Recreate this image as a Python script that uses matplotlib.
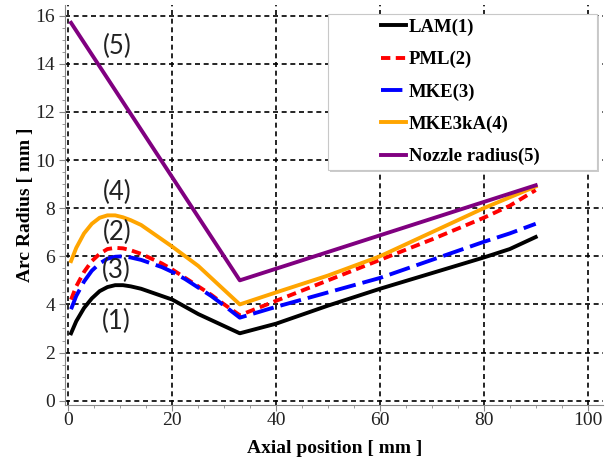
import matplotlib.pyplot as plt
from matplotlib.patches import Rectangle
from matplotlib.ticker import MultipleLocator

# axial positions (mm) where the arc radius curves were sampled
x = [0.5, 1.5, 3, 4.5, 6, 7.5, 9, 10.5, 12, 14, 16, 18, 20, 22.5, 25, 27.5,
     30, 33, 40, 50, 60, 70, 80, 85, 90]

lam = [2.8, 3.3, 3.85, 4.25, 4.55, 4.72, 4.8, 4.8, 4.75, 4.65, 4.5, 4.35,
       4.2, 3.9, 3.6, 3.35, 3.1, 2.8,
       3.2, 3.95, 4.65, 5.3, 5.95, 6.3, 6.8]
pml = [4.2, 4.75, 5.35, 5.8, 6.1, 6.3, 6.35, 6.33, 6.25, 6.1, 5.9, 5.7,
       5.45, 5.1, 4.75, 4.4, 4.0, 3.55,
       4.15, 5.0, 5.85, 6.7, 7.6, 8.1, 8.75]
mke = [3.8, 4.35, 4.95, 5.4, 5.7, 5.9, 5.98, 6.0, 5.95, 5.85, 5.7, 5.55,
       5.35, 5.05, 4.7, 4.35, 3.95, 3.45,
       3.9, 4.5, 5.1, 5.85, 6.6, 6.95, 7.35]
mke3ka = [5.8, 6.35, 6.95, 7.35, 7.6, 7.7, 7.7, 7.62, 7.5, 7.3, 7.0, 6.7,
          6.4, 6.0, 5.6, 5.1, 4.6, 4.0,
          4.5, 5.2, 6.0, 7.0, 8.0, 8.45, 8.9]

# nozzle wall: converging cone then diverging cone
nozzle_x = [0.5, 33, 90]
nozzle_r = [15.7, 5.0, 8.95]

labels = ['LAM(1)', 'PML(2)', 'MKE(3)', 'MKE3kA(4)', 'Nozzle radius(5)']
tags = ['(5)', '(4)', '(2)', '(3)', '(1)']
tag_x = [9.4, 9.3, 9.3, 9.3, 9.3]
tag_y = [14.7, 8.67, 7.01, 5.42, 3.28]

fig = plt.figure(figsize=(6.05, 4.59), dpi=100)
ax = fig.add_axes([0.108, 0.1176, 0.889, 0.872])

lw = 2.8
ax.plot(x, lam, color='black', lw=lw, label=labels[0], zorder=5)
ax.plot(x, pml, color='red', lw=lw, dashes=(2.4, 1.4), label=labels[1], zorder=5)
ax.plot(x, mke, color='blue', lw=lw, dashes=(5.5, 1.8), label=labels[2], zorder=5)
ax.plot(x, mke3ka, color='orange', lw=lw, label=labels[3], zorder=5)
ax.plot(nozzle_x, nozzle_r, color='purple', lw=lw, label=labels[4], zorder=5)

for t, tx, ty in zip(tags, tag_x, tag_y):
    ax.text(tx, ty, t, fontsize=18.5, family='Lato', color='#222222',
            ha='center', va='center', zorder=6)

ax.set_xlim(-0.6, 103)
ax.set_ylim(-0.18, 16.45)
ax.xaxis.set_major_locator(MultipleLocator(20))
ax.xaxis.set_minor_locator(MultipleLocator(5))
ax.yaxis.set_major_locator(MultipleLocator(2))
ax.yaxis.set_minor_locator(MultipleLocator(0.5))

ax.grid(True, which='major', color='black', lw=1.2, linestyle=(0, (3, 2.2)))
ax.set_axisbelow(True)

for s in ['top', 'right']:
    ax.spines[s].set_visible(False)
for s in ['left', 'bottom']:
    ax.spines[s].set_color('#888888')
    ax.spines[s].set_linewidth(0.8)

ax.tick_params(which='major', direction='out', length=4.5, width=0.8,
               color='#888888', labelsize=14, labelcolor='#222222', pad=3)
ax.tick_params(axis='x', which='major', pad=0.5)
ax.tick_params(which='minor', direction='out', length=2.5, width=0.6,
               color='#888888')
for lbl in ax.get_xticklabels() + ax.get_yticklabels():
    lbl.set_family('Liberation Serif')

ax.set_xlabel('Axial position [ mm ]', fontsize=14, fontweight='bold',
              family='Liberation Serif', labelpad=8)
ax.set_ylabel('Arc Radius [ mm ]', fontsize=14, fontweight='bold',
              family='Liberation Serif', labelpad=1)

# legend box with a soft shadow, legend entries centred inside it
bx0, by0, bw, bh = 0.488, 0.587, 0.501, 0.39
ax.add_patch(Rectangle((bx0 + 0.004, by0 - 0.006), bw, bh, transform=ax.transAxes,
                       facecolor='#cccccc', edgecolor='none', zorder=3))
ax.add_patch(Rectangle((bx0, by0), bw, bh, transform=ax.transAxes,
                       facecolor='white', edgecolor='#c8c8c8', lw=0.8, zorder=3))
leg = ax.legend(loc='center', bbox_to_anchor=(bx0 + bw / 2 - 0.004, by0 + bh / 2),
                frameon=False, handlelength=1.3, handletextpad=0.15,
                labelspacing=0.8,
                prop={'family': 'Liberation Serif', 'weight': 'bold', 'size': 13.5})
leg.set_zorder(4)

fig.savefig('out.png', dpi=100)
